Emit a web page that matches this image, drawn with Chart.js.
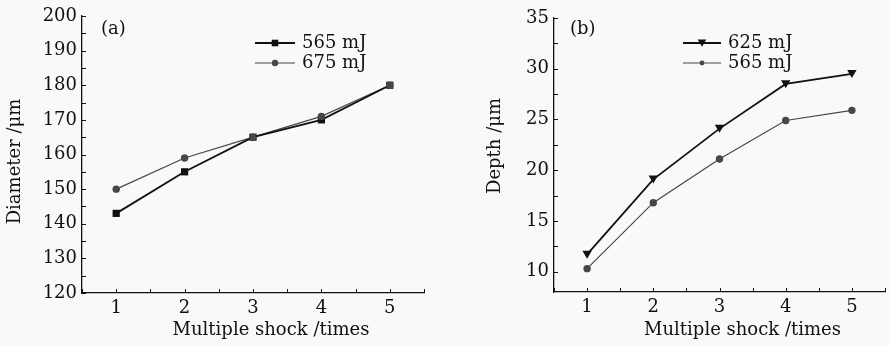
<!DOCTYPE html>
<html>
<head>
<meta charset="utf-8">
<script src="https://cdn.jsdelivr.net/npm/chart.js@4.4.1/dist/chart.umd.min.js"></script>
<style>
    html, body { margin: 0; padding: 0; background: #f9f9f9; }
    .panel { position: absolute; top: 0; width: 445px; height: 345px; }
</style>
</head>
<body>
<div class="panel" style="left:0"><canvas id="chart-a"></canvas></div>
<div class="panel" style="left:445px"><canvas id="chart-b"></canvas></div>
<script>
// data
const shocks = [1, 2, 3, 4, 5];
const diameter565 = [143, 155, 165, 170, 180];
const diameter675 = [150, 159, 165, 171, 180];
const depth625 = [11.7, 19.1, 24.1, 28.5, 29.5];
const depth565 = [10.3, 16.8, 21.1, 24.9, 25.9];

// tick marks (minor ones get no label)
const shockTicks = [0.5, 1, 1.5, 2, 2.5, 3, 3.5, 4, 4.5, 5, 5.5];
const diameterTicks = [120, 125, 130, 135, 140, 145, 150, 155, 160, 165, 170, 175, 180, 185, 190, 195, 200];
const depthTicks = [10, 12.5, 15, 17.5, 20, 22.5, 25, 27.5, 30, 32.5, 35];

const FONT_FAMILY = "'DejaVu Serif', 'Liberation Serif', serif";
const FONT_SIZE = 18;
const INK = "#111";
const GREY = "#474747";

const pairs = (ys) => shocks.map((s, i) => ({ x: s, y: ys[i] }));

function drawMarker(ctx, style, x, y, r) {
    ctx.beginPath();
    if (style === "rect") {
        ctx.rect(x - r, y - r, 2 * r, 2 * r);
    } else if (style === "triangleDown") {
        ctx.moveTo(x - r, y - r * 0.8);
        ctx.lineTo(x + r, y - r * 0.8);
        ctx.lineTo(x, y + r * 0.9);
        ctx.closePath();
    } else {
        ctx.arc(x, y, r, 0, Math.PI * 2);
    }
    ctx.fill();
}

// ticks pointing into the plot, like the original
const innerTicks = {
    id: "innerTicks",
    afterDraw(chart) {
        const ctx = chart.ctx;
        const xs = chart.scales.x;
        const ys = chart.scales.y;
        ctx.save();
        ctx.strokeStyle = INK;
        ctx.lineWidth = 1;
        ctx.beginPath();
        xs.ticks.forEach((t) => {
            const px = Math.round(xs.getPixelForValue(t.value)) + 0.5;
            ctx.moveTo(px, ys.bottom);
            ctx.lineTo(px, ys.bottom - 4);
        });
        ys.ticks.forEach((t) => {
            const py = Math.round(ys.getPixelForValue(t.value)) + 0.5;
            ctx.moveTo(xs.left, py);
            ctx.lineTo(xs.left + 4, py);
        });
        ctx.stroke();
        ctx.restore();
    },
};

// legend, panel tag and axis titles, placed like in the original
const panelLegend = {
    id: "panelLegend",
    afterDraw(chart, args, opts) {
        const ctx = chart.ctx;
        const area = chart.chartArea;
        ctx.save();
        ctx.font = FONT_SIZE + "px " + FONT_FAMILY;
        ctx.textBaseline = "middle";
        chart.data.datasets.forEach((ds, i) => {
            const y0 = area.top + opts.top + i * opts.rowGap;
            const x0 = area.left + opts.left;
            ctx.strokeStyle = ds.borderColor;
            ctx.lineWidth = ds.borderWidth;
            ctx.beginPath();
            ctx.moveTo(x0, y0);
            ctx.lineTo(x0 + opts.lineLength, y0);
            ctx.stroke();
            ctx.fillStyle = ds.pointBackgroundColor;
            drawMarker(ctx, ds.markerStyle, x0 + opts.lineLength / 2, y0, ds.legendSize);
            ctx.fillStyle = INK;
            ctx.fillText(ds.label, x0 + opts.lineLength + opts.gap, y0);
        });
        ctx.fillStyle = INK;
        ctx.fillText(opts.tag, area.left + opts.tagX, area.top + opts.tagY);

        // x title
        ctx.textAlign = "center";
        ctx.fillText(opts.xTitle, (area.left + area.right) / 2 + opts.xTitleDx, opts.xTitleY);
        // y title, rotated
        ctx.translate(opts.yTitleX, (area.top + area.bottom) / 2 + opts.yTitleDy);
        ctx.rotate(-Math.PI / 2);
        ctx.fillText(opts.yTitle, 0, 0);
        ctx.restore();
    },
};

// custom markers on the data points
const pointMarkers = {
    id: "pointMarkers",
    afterDatasetsDraw(chart) {
        const ctx = chart.ctx;
        ctx.save();
        chart.data.datasets.forEach((ds, i) => {
            const meta = chart.getDatasetMeta(i);
            ctx.fillStyle = ds.pointBackgroundColor;
            meta.data.forEach((pt) => drawMarker(ctx, ds.markerStyle, pt.x, pt.y, ds.markerSize));
        });
        ctx.restore();
    },
};

function makeOptions(cfg) {
    return {
        responsive: true,
        maintainAspectRatio: false,
        animation: false,
        layout: {
            padding: { top: cfg.padTop, right: cfg.padRight, left: 0, bottom: 0 },
        },
        elements: {
            point: { radius: 0, hoverRadius: 0 },
            line: { tension: 0 },
        },
        scales: {
            x: {
                type: "linear",
                min: 0.5,
                max: 5.5,
                afterBuildTicks: (s) => { s.ticks = shockTicks.map((v) => ({ value: v })); },
                afterFit: (s) => { s.height = cfg.xHeight; },
                grid: { display: false, drawTicks: false },
                border: { display: true, color: INK, width: 1.3 },
                ticks: {
                    autoSkip: false,
                    maxRotation: 0,
                    padding: 5,
                    color: INK,
                    font: { family: FONT_FAMILY, size: FONT_SIZE },
                    callback: (v) => (Number.isInteger(v) ? v : ""),
                },
            },
            y: {
                min: cfg.yMin,
                max: cfg.yMax,
                afterBuildTicks: (s) => { s.ticks = cfg.yTicks.map((v) => ({ value: v })); },
                afterFit: (s) => { s.width = cfg.yWidth; },
                grid: { display: false, drawTicks: false },
                border: { display: true, color: INK, width: 1.3 },
                ticks: {
                    autoSkip: false,
                    padding: 5,
                    color: INK,
                    font: { family: FONT_FAMILY, size: FONT_SIZE },
                    callback: (v) => (v % cfg.labelStep === 0 ? v : ""),
                },
            },
        },
        plugins: {
            legend: { display: false },
            tooltip: { enabled: false },
            panelLegend: cfg.legend,
        },
    };
}

new Chart(document.getElementById("chart-a"), {
    type: "line",
    data: {
        datasets: [
            {
                label: "565 mJ",
                data: pairs(diameter565),
                borderColor: INK,
                borderWidth: 1.8,
                pointBackgroundColor: INK,
                markerStyle: "rect",
                markerSize: 3.6,
                legendSize: 3.3,
            },
            {
                label: "675 mJ",
                data: pairs(diameter675),
                borderColor: GREY,
                borderWidth: 1.2,
                pointBackgroundColor: GREY,
                markerStyle: "circle",
                markerSize: 3.7,
                legendSize: 3.2,
            },
        ],
    },
    options: makeOptions({
        padTop: 16, padRight: 21, xHeight: 52, yWidth: 82,
        yMin: 120, yMax: 200, yTicks: diameterTicks, labelStep: 10,
        legend: {
            left: 173, top: 27, rowGap: 20, lineLength: 40, gap: 7, tag: "(a)", tagX: 19, tagY: 13,
            xTitle: "Multiple shock /times", xTitleDx: 18, xTitleY: 330,
            yTitle: "Diameter /\u03bcm", yTitleX: 15, yTitleDy: 7,
        },
    }),
    plugins: [pointMarkers, innerTicks, panelLegend],
});

new Chart(document.getElementById("chart-b"), {
    type: "line",
    data: {
        datasets: [
            {
                label: "625 mJ",
                data: pairs(depth625),
                borderColor: INK,
                borderWidth: 1.8,
                pointBackgroundColor: INK,
                markerStyle: "triangleDown",
                markerSize: 4.7,
                legendSize: 4.3,
            },
            {
                label: "565 mJ",
                data: pairs(depth565),
                borderColor: GREY,
                borderWidth: 1.2,
                pointBackgroundColor: GREY,
                markerStyle: "circle",
                markerSize: 3.7,
                legendSize: 2.4,
            },
        ],
    },
    options: makeOptions({
        padTop: 18, padRight: 2, xHeight: 53, yWidth: 109,
        yMin: 8, yMax: 35, yTicks: depthTicks, labelStep: 5,
        legend: {
            left: 129, top: 25, rowGap: 20, lineLength: 38, gap: 7, tag: "(b)", tagX: 16, tagY: 11,
            xTitle: "Multiple shock /times", xTitleDx: 23, xTitleY: 330,
            yTitle: "Depth /\u03bcm", yTitleX: 50, yTitleDy: -9,
        },
    }),
    plugins: [pointMarkers, innerTicks, panelLegend],
});
</script>
</body>
</html>
